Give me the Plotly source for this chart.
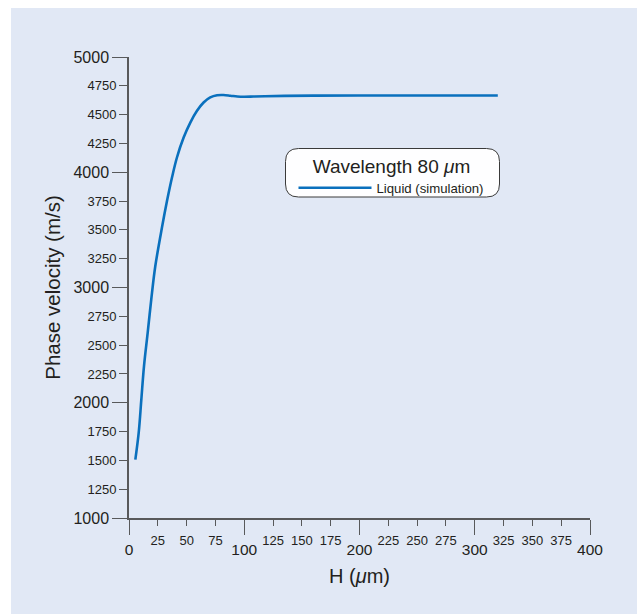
import plotly.graph_objects as go

# ---- data ----
H_um = [5.5, 8.4, 10.7, 13, 16.2, 19.3, 22.8, 28.6, 33, 37.3, 41.6, 47.4, 53.2, 59, 64.7,
        70.5, 76.4, 82, 88, 94, 100, 108, 118, 135, 160, 200, 250, 320]
velocity = [1507, 1738, 2027, 2316, 2606, 2895, 3184, 3520, 3752, 3954, 4128, 4301, 4431, 4533,
            4605, 4649, 4668, 4670, 4664, 4657, 4655, 4657, 4660, 4663, 4665, 4666, 4666, 4666]
series_name = "Liquid (simulation)"
legend_title = "Wavelength 80 <i>μ</i>m"

x_major = [0, 100, 200, 300, 400]
x_minor = [25, 50, 75, 125, 150, 175, 225, 250, 275, 325, 350, 375]
y_major = [1000, 2000, 3000, 4000, 5000]
y_minor = [1250, 1500, 1750, 2250, 2500, 2750, 3250, 3500, 3750, 4250, 4500, 4750]

# ---- layout geometry ----
W, Hh = 637, 614
ML, MR, MT, MB = 129, 47, 57, 96
PW, PH = W - ML - MR, Hh - MT - MB
BG = "#e1e8f5"
FONT = "Liberation Sans, Arial, sans-serif"
TXT = "#231f20"
AX = "#58595b"
BLUE = "#0a70bd"


def px_x(p):
    return (p - ML) / PW


def px_y(p):
    return (Hh - MB - p) / PH


fig = go.Figure()
fig.add_trace(go.Scatter(
    x=H_um, y=velocity, mode="lines", name=series_name,
    line=dict(color=BLUE, width=2.6, shape="spline", smoothing=1.0),
    showlegend=True,
))
# empty traces so the secondary (minor-label) axes are drawn
fig.add_trace(go.Scatter(x=[], y=[], xaxis="x2", yaxis="y", showlegend=False, hoverinfo="skip"))
fig.add_trace(go.Scatter(x=[], y=[], xaxis="x", yaxis="y2", showlegend=False, hoverinfo="skip"))

common = dict(showgrid=False, zeroline=False, ticks="outside", tickcolor=AX,
              tickwidth=1.3)

fig.update_layout(
    width=W, height=Hh,
    margin=dict(l=ML, r=MR, t=MT, b=MB, pad=0),
    paper_bgcolor="white", plot_bgcolor=BG,
    font=dict(family=FONT, color=TXT),
    xaxis=dict(range=[0, 400], tickvals=x_major, ticktext=[str(v) for v in x_major],
               ticklen=15, tickfont=dict(size=15.5, color=TXT), ticklabelstandoff=2,
               showline=True, linecolor=AX, linewidth=1.5,
               title=dict(text="H (<i>μ</i>m)", font=dict(size=20, color=TXT), standoff=12),
               **common),
    xaxis2=dict(range=[0, 400], overlaying="x", anchor="y", side="bottom",
                tickvals=x_minor, ticktext=[str(v) for v in x_minor],
                ticklen=7, tickfont=dict(size=13, color=TXT), ticklabelstandoff=3,
                showline=False, **common),
    yaxis=dict(range=[1000, 5000], tickvals=y_major, ticktext=[str(v) for v in y_major],
               ticklen=15, tickfont=dict(size=16, color=TXT),
               showline=True, linecolor=AX, linewidth=1.5,
               title=dict(text="Phase velocity (m/s)", font=dict(size=20.5, color=TXT), standoff=7),
               **common),
    yaxis2=dict(range=[1000, 5000], overlaying="y", anchor="x", side="left",
                tickvals=y_minor, ticktext=[str(v) for v in y_minor],
                ticklen=9, tickfont=dict(size=13, color=TXT), showline=False,
                **common),
    legend=dict(x=px_x(293.5), y=px_y(148), xanchor="left", yanchor="top",
                bgcolor="rgba(0,0,0,0)", borderwidth=0, itemwidth=73,
                title=dict(text=legend_title, font=dict(size=19, color=TXT), side="top center"),
                font=dict(size=13.2, color=TXT)),
)

# page background panel (white strip at top/left as in the reference)
fig.add_shape(type="rect", xref="paper", yref="paper", layer="below",
              x0=px_x(11), x1=px_x(W + 5), y0=px_y(Hh + 5), y1=px_y(8),
              fillcolor=BG, line=dict(width=0))

# rounded legend frame
x0, x1, y0, y1, r = 285.5, 499.5, 148.5, 197, 13
path = (f"M{px_x(x0 + r)},{px_y(y0)} L{px_x(x1 - r)},{px_y(y0)} "
        f"Q{px_x(x1)},{px_y(y0)} {px_x(x1)},{px_y(y0 + r)} "
        f"L{px_x(x1)},{px_y(y1 - r)} Q{px_x(x1)},{px_y(y1)} {px_x(x1 - r)},{px_y(y1)} "
        f"L{px_x(x0 + r)},{px_y(y1)} Q{px_x(x0)},{px_y(y1)} {px_x(x0)},{px_y(y1 - r)} "
        f"L{px_x(x0)},{px_y(y0 + r)} Q{px_x(x0)},{px_y(y0)} {px_x(x0 + r)},{px_y(y0)} Z")
fig.add_shape(type="path", xref="paper", yref="paper", path=path, layer="above",
              fillcolor="rgba(255,255,255,0.95)", line=dict(color="#3a3a3a", width=1))

fig.write_html("out.html")
